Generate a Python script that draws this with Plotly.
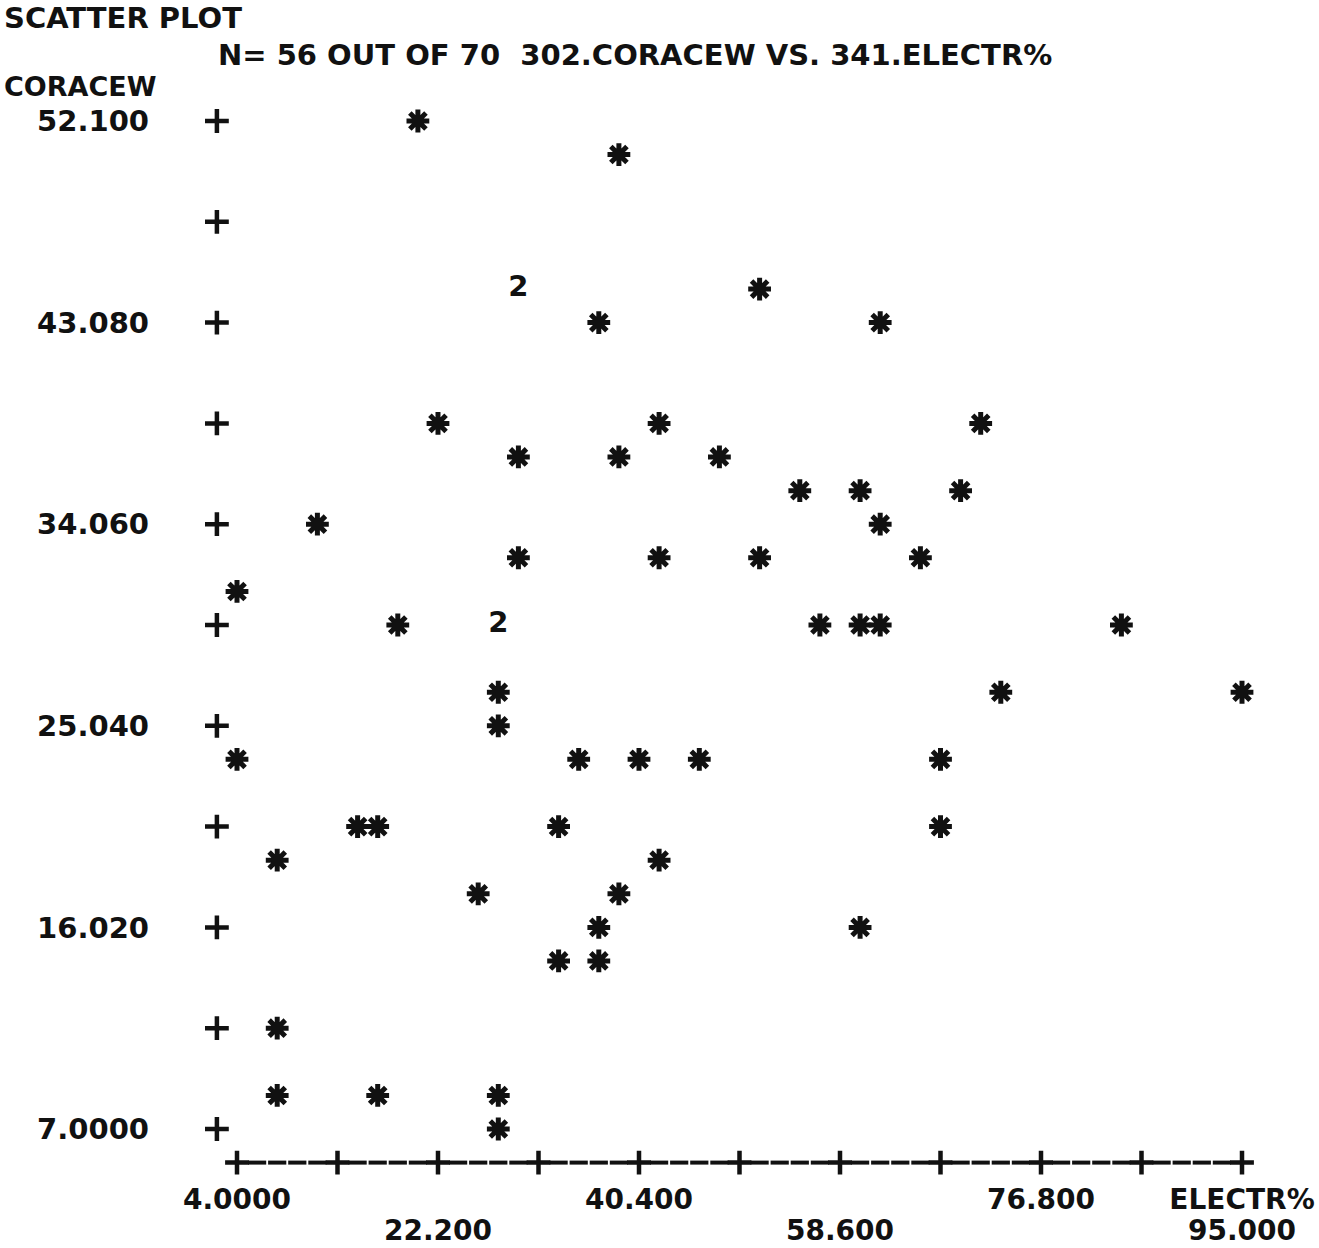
import plotly.graph_objects as go
from collections import Counter

# ---------------- data ----------------
electr = [20.38, 38.58, 29.48, 29.48, 51.32, 36.76, 62.24, 22.20, 42.22, 71.34,
          29.48, 38.58, 47.68, 54.96, 60.42, 69.52, 11.28, 62.24, 29.48, 42.22,
          51.32, 65.88, 4.00, 18.56, 27.66, 27.66, 56.78, 60.42, 62.24, 84.08,
          27.66, 73.16, 95.00, 27.66, 4.00, 34.94, 40.40, 45.86, 67.70, 14.92,
          16.74, 33.12, 67.70, 7.64, 42.22, 25.84, 38.58, 36.76, 60.42, 33.12,
          36.76, 7.64, 7.64, 16.74, 27.66, 27.66]
coracew = [52.10, 50.60, 44.58, 44.58, 44.58, 43.08, 43.08, 38.57, 38.57, 38.57,
           37.07, 37.07, 37.07, 35.56, 35.56, 35.56, 34.06, 34.06, 32.56, 32.56,
           32.56, 32.56, 31.05, 29.55, 29.55, 29.55, 29.55, 29.55, 29.55, 29.55,
           26.54, 26.54, 26.54, 25.04, 23.54, 23.54, 23.54, 23.54, 23.54, 20.53,
           20.53, 20.53, 20.53, 19.03, 19.03, 17.52, 17.52, 16.02, 16.02, 14.52,
           14.52, 11.51, 8.50, 8.50, 8.50, 7.00]

y_tick_vals = [7.0, 16.02, 25.04, 34.06, 43.08, 52.1]
y_tick_text = ["7.0000", "16.020", "25.040", "34.060", "43.080", "52.100"]
x_tick_vals_row1 = [4.0, 40.4, 76.8, 95.0]
x_tick_text_row1 = ["4.0000", "40.400", "76.800", "ELECTR%"]
x_tick_vals_row2 = [22.2, 58.6, 95.0]
x_tick_text_row2 = ["22.200", "58.600", "95.000"]

title_text = "SCATTER PLOT"
subtitle_text = "N= 56 OUT OF 70\u00a0\u00a0302.CORACEW VS. 341.ELECTR%"
y_name = "CORACEW"

# ---------------- printer grid ----------------
X_MIN, X_MAX = 4.0, 95.0
Y_MIN, Y_MAX = 7.0, 52.1
N_COLS, N_ROWS = 50, 30
col = (X_MAX - X_MIN) / N_COLS
row = (Y_MAX - Y_MIN) / N_ROWS

W, H = 1319, 1248
L, R, T, B = 160, 1300, 95, 1180
PX0, PY0 = 237.0, 1129.0          # pixel of (X_MIN, Y_MIN)
CW = 20.1                          # char cell width in px
RH = 33.6                          # row height in px

x_range = [X_MIN - (PX0 - L) / CW * col, X_MIN + (R - PX0) / CW * col]
y_range = [Y_MIN - (B - PY0) / RH * row, Y_MIN + (PY0 - T) / RH * row]

def paper_x(px):
    return (px - L) / (R - L)

def paper_y(py):
    return (B - py) / (B - T)

INK = "#111111"
FONT = dict(family="DejaVu Sans", size=29, color=INK, weight="bold")
XFONT = dict(FONT, size=28)

# ---------------- build marks ----------------
counts = Counter(zip(electr, coracew))
single = [k for k, v in counts.items() if v == 1]
multi = [k for k, v in counts.items() if v > 1]

fig = go.Figure()

plus_marker = dict(symbol="cross-thin-open", size=17, color=INK,
                   line=dict(width=4.5, color=INK))

# y axis "+" marks (every half label step), one column left of X_MIN
y_plus = [Y_MIN + i * (y_tick_vals[1] - y_tick_vals[0]) / 2 for i in range(11)]
fig.add_trace(go.Scatter(
    x=[X_MIN - col] * len(y_plus), y=y_plus, mode="markers",
    marker=plus_marker, hoverinfo="skip", showlegend=False))

# x axis "+----+----" line, one row below Y_MIN
x_step = (x_tick_vals_row2[0] - x_tick_vals_row1[0]) / 2
x_plus = [X_MIN + i * x_step for i in range(11)]
x_dash = [X_MIN + k * col for k in range(N_COLS + 1) if k % 5 != 0]
fig.add_trace(go.Scatter(
    x=x_dash, y=[Y_MIN - row] * len(x_dash), mode="markers",
    marker=dict(symbol="line-ew-open", size=13, color=INK, line=dict(width=4, color=INK)),
    hoverinfo="skip", showlegend=False))
fig.add_trace(go.Scatter(
    x=x_plus, y=[Y_MIN - row] * len(x_plus), mode="markers",
    marker=plus_marker, hoverinfo="skip", showlegend=False, xaxis="x2"))

# single observations "*"
fig.add_trace(go.Scatter(
    x=[p[0] for p in single], y=[p[1] for p in single], mode="markers",
    marker=dict(symbol="asterisk-open", size=19, color=INK,
                line=dict(width=5, color=INK)),
    showlegend=False))

# multiple observations in one cell -> count digit
fig.add_trace(go.Scatter(
    x=[p[0] for p in multi], y=[p[1] for p in multi], mode="text",
    text=[str(counts[p]) for p in multi], textposition="middle center",
    textfont=FONT, showlegend=False))

axis_common = dict(showgrid=False, zeroline=False, showline=False, ticks="",
                   fixedrange=True, automargin=False)

fig.update_layout(
    width=W, height=H, autosize=False,
    margin=dict(l=L, r=W - R, t=T, b=H - B, pad=0),
    paper_bgcolor="white", plot_bgcolor="white",
    xaxis=dict(range=x_range, tickmode="array", tickvals=x_tick_vals_row1,
               ticktext=x_tick_text_row1, ticklabelstandoff=0, tickfont=XFONT,
               **axis_common),
    xaxis2=dict(range=x_range, tickmode="array", tickvals=x_tick_vals_row2,
                ticktext=x_tick_text_row2, overlaying="x", side="bottom",
                anchor="y", ticklabelstandoff=31, tickfont=XFONT, **axis_common),
    yaxis=dict(range=y_range, tickmode="array", tickvals=y_tick_vals,
               ticktext=y_tick_text, ticklabelstandoff=10, tickfont=FONT,
               **axis_common),
    annotations=[
        dict(text=title_text, xref="paper", yref="paper", x=paper_x(2), y=paper_y(18),
             xanchor="left", yanchor="middle", showarrow=False, font=FONT),
        dict(text=subtitle_text, xref="paper", yref="paper", x=paper_x(216), y=paper_y(55),
             xanchor="left", yanchor="middle", showarrow=False, font=FONT),
        dict(text=y_name, xref="paper", yref="paper", x=paper_x(2), y=paper_y(86),
             xanchor="left", yanchor="middle", showarrow=False,
             font=dict(FONT, size=27)),
    ],
    hovermode=False,
)

fig.write_html("out.html", config={"displayModeBar": False, "responsive": False},
               post_script="document.body.style.margin='0';"
                           "document.documentElement.style.overflow='hidden';")
